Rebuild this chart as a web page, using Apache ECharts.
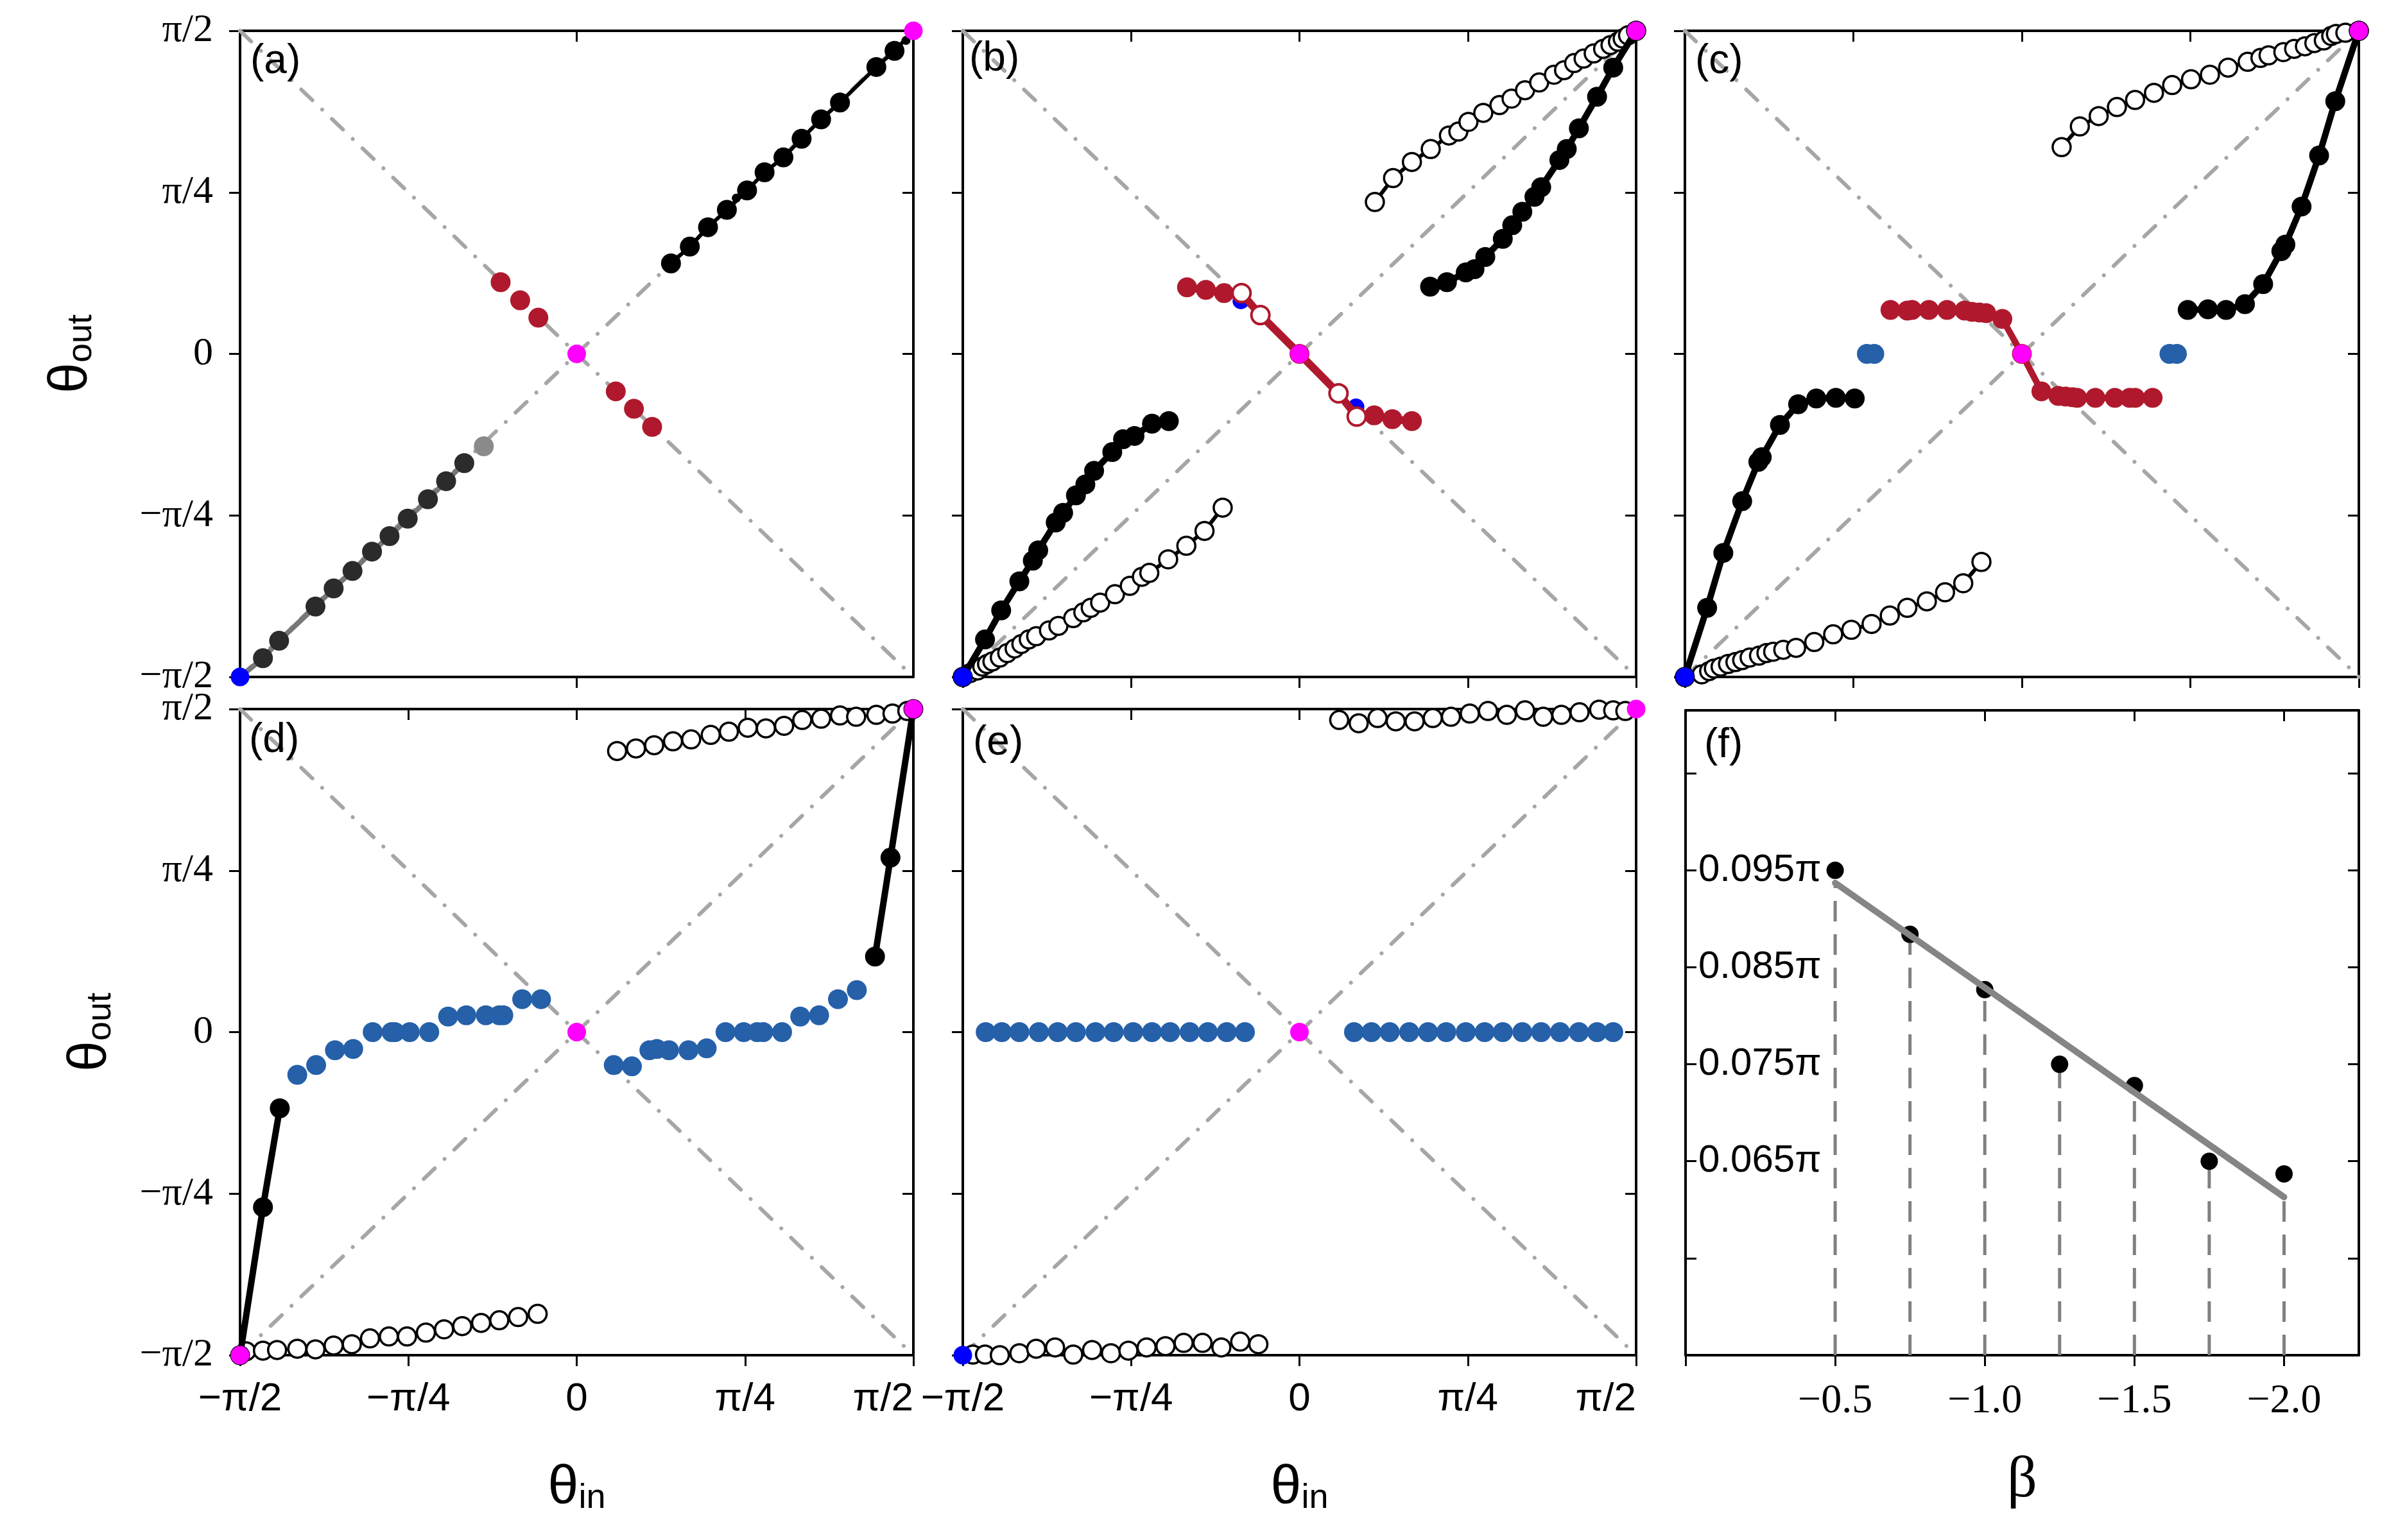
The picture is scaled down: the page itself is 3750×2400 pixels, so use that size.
<!DOCTYPE html>
<html>
<head>
<meta charset="utf-8">
<script src="https://cdn.jsdelivr.net/npm/echarts@6/dist/echarts.min.js"></script>
<style>html,body{margin:0;padding:0;background:#fff}#c{width:3750px;height:2400px}</style>
</head>
<body>
<div id="c"></div>
<script>
// ---------- tick labels / categories ----------
const thetaTickValues = [-0.5, -0.25, 0, 0.25, 0.5];
const thetaTickLabels = ['−π/2', '−π/4', '0', 'π/4', 'π/2'];
const betaTickValues = [-0.5, -1.0, -1.5, -2.0];
const betaTickLabels = ['−0.5', '−1.0', '−1.5', '−2.0'];
const betaAllTicks = [0, -0.5, -1.0, -1.5, -2.0];
const fTickValues = [0.055, 0.065, 0.075, 0.085, 0.095, 0.105];
const fLabelValues = [0.065, 0.075, 0.085, 0.095];
const fTickLabels = ['0.065π', '0.075π', '0.085π', '0.095π'];
const panelLabels = ['(a)', '(b)', '(c)', '(d)', '(e)', '(f)'];

// reference diagonals (units of π)
const diagUpX = [-0.5, 0.5], diagUpY = [-0.5, 0.5];
const diagDownX = [-0.5, 0.5], diagDownY = [0.5, -0.5];
const cornerLowX = [-0.5], cornerLowY = [-0.5];
const magentaX = [0, 0.5], magentaY = [0, 0.5];

// ---------- panel (a) ----------
const aUpperX = [0.140, 0.168, 0.195, 0.223, 0.253, 0.279, 0.307, 0.334, 0.363, 0.391, 0.445, 0.472];
const aUpperY = [0.140, 0.166, 0.196, 0.223, 0.253, 0.281, 0.304, 0.333, 0.363, 0.389, 0.444, 0.469];
const aSmallX = [0.237, 0.489];
const aSmallY = [0.241, 0.485];
const aLowerX = [-0.466, -0.442, -0.388, -0.361, -0.333, -0.304, -0.278, -0.251, -0.221, -0.194, -0.167];
const aLowerY = [-0.471, -0.444, -0.391, -0.363, -0.336, -0.306, -0.282, -0.255, -0.225, -0.197, -0.169];
const aLowerLastX = [-0.138];
const aLowerLastY = [-0.143];
const aRedX = [-0.113, -0.084, -0.057, 0.058, 0.085, 0.112];
const aRedY = [0.111, 0.083, 0.056, -0.058, -0.085, -0.113];

// ---------- panel (b) ----------
const bBlackLowX = [-0.5, -0.467, -0.443, -0.416, -0.396, -0.388, -0.362, -0.351, -0.332, -0.318, -0.305, -0.278, -0.262, -0.245, -0.219, -0.194];
const bBlackLowY = [-0.5, -0.442, -0.397, -0.352, -0.320, -0.304, -0.261, -0.246, -0.219, -0.202, -0.181, -0.152, -0.132, -0.127, -0.108, -0.104];
const bBlackHighX = [0.194, 0.219, 0.247, 0.260, 0.276, 0.302, 0.316, 0.331, 0.349, 0.359, 0.386, 0.397, 0.415, 0.442, 0.466, 0.5];
const bBlackHighY = [0.104, 0.111, 0.126, 0.131, 0.150, 0.178, 0.199, 0.220, 0.243, 0.258, 0.300, 0.317, 0.349, 0.398, 0.443, 0.5];
const bOpenLowX = [-0.5, -0.489, -0.478, -0.471, -0.464, -0.456, -0.445, -0.434, -0.423, -0.413, -0.402, -0.391, -0.372, -0.358, -0.336, -0.321, -0.310, -0.296, -0.274, -0.252, -0.234, -0.223, -0.195, -0.168, -0.141, -0.114];
const bOpenLowY = [-0.5, -0.494, -0.490, -0.484, -0.480, -0.476, -0.470, -0.463, -0.456, -0.449, -0.442, -0.437, -0.428, -0.421, -0.409, -0.400, -0.393, -0.385, -0.372, -0.359, -0.345, -0.339, -0.318, -0.297, -0.274, -0.238];
const bOpenHighX = [0.112, 0.139, 0.167, 0.195, 0.222, 0.236, 0.251, 0.273, 0.297, 0.315, 0.335, 0.356, 0.378, 0.393, 0.408, 0.422, 0.437, 0.451, 0.462, 0.473, 0.480, 0.488, 0.5];
const bOpenHighY = [0.235, 0.272, 0.297, 0.317, 0.338, 0.344, 0.359, 0.373, 0.385, 0.395, 0.408, 0.420, 0.432, 0.439, 0.450, 0.457, 0.465, 0.472, 0.478, 0.483, 0.488, 0.493, 0.5];
const bRedX = [-0.167, -0.139, -0.112, -0.086, -0.058, 0, 0.058, 0.085, 0.111, 0.138, 0.167];
const bRedY = [0.103, 0.099, 0.094, 0.094, 0.060, 0, -0.061, -0.097, -0.095, -0.101, -0.104];
const bRedOpenX = [-0.086, -0.058, 0.058, 0.085];
const bRedOpenY = [0.094, 0.060, -0.061, -0.097];
const bBlueX = [-0.087, 0.084];
const bBlueY = [0.082, -0.082];

// ---------- panel (c) ----------
const cBlackLowX = [-0.5, -0.467, -0.443, -0.415, -0.391, -0.386, -0.359, -0.332, -0.305, -0.276, -0.248];
const cBlackLowY = [-0.5, -0.393, -0.308, -0.228, -0.167, -0.160, -0.110, -0.078, -0.069, -0.068, -0.069];
const cBlackHighX = [0.246, 0.276, 0.303, 0.331, 0.358, 0.385, 0.391, 0.415, 0.441, 0.465, 0.5];
const cBlackHighY = [0.068, 0.069, 0.068, 0.077, 0.108, 0.159, 0.169, 0.228, 0.307, 0.391, 0.5];
const cBlueX = [-0.230, -0.219, 0.219, 0.230];
const cBlueY = [0, 0, 0, 0];
const cRedX = [-0.195, -0.170, -0.163, -0.138, -0.111, -0.085, -0.074, -0.063, -0.053, -0.029, 0, 0.029, 0.054, 0.065, 0.075, 0.082, 0.109, 0.138, 0.160, 0.168, 0.194];
const cRedY = [0.068, 0.067, 0.068, 0.068, 0.068, 0.067, 0.065, 0.064, 0.063, 0.054, 0, -0.058, -0.065, -0.066, -0.067, -0.068, -0.068, -0.068, -0.068, -0.068, -0.068];
const cOpenHighX = [0.059, 0.086, 0.114, 0.141, 0.168, 0.196, 0.223, 0.251, 0.279, 0.306, 0.335, 0.354, 0.366, 0.388, 0.404, 0.420, 0.434, 0.448, 0.459, 0.466, 0.480, 0.5];
const cOpenHighY = [0.320, 0.352, 0.368, 0.382, 0.393, 0.404, 0.416, 0.425, 0.432, 0.443, 0.452, 0.458, 0.462, 0.467, 0.472, 0.476, 0.481, 0.485, 0.492, 0.495, 0.497, 0.5];
const cOpenLowX = [-0.5, -0.475, -0.464, -0.457, -0.447, -0.436, -0.425, -0.415, -0.404, -0.390, -0.379, -0.369, -0.354, -0.335, -0.308, -0.280, -0.253, -0.223, -0.196, -0.170, -0.141, -0.114, -0.087, -0.060];
const cOpenLowY = [-0.5, -0.496, -0.491, -0.487, -0.484, -0.480, -0.477, -0.474, -0.470, -0.467, -0.463, -0.461, -0.458, -0.455, -0.446, -0.434, -0.427, -0.418, -0.405, -0.393, -0.383, -0.369, -0.355, -0.322];

// ---------- panel (d) ----------
const dBlackLowX = [-0.5, -0.466, -0.441];
const dBlackLowY = [-0.5, -0.271, -0.118];
const dBlackHighX = [0.443, 0.466, 0.5];
const dBlackHighY = [0.117, 0.270, 0.5];
const dBlueLowX = [-0.415, -0.387, -0.359, -0.332, -0.303, -0.275, -0.270, -0.248, -0.219, -0.191, -0.164, -0.135, -0.115, -0.109, -0.081, -0.053];
const dBlueLowY = [-0.066, -0.051, -0.028, -0.026, 0, 0, 0, 0, 0, 0.024, 0.026, 0.026, 0.026, 0.026, 0.051, 0.051];
const dBlueHighX = [0.055, 0.082, 0.108, 0.119, 0.137, 0.166, 0.193, 0.221, 0.248, 0.268, 0.277, 0.305, 0.332, 0.360, 0.388, 0.416];
const dBlueHighY = [-0.051, -0.053, -0.028, -0.026, -0.028, -0.028, -0.025, 0, 0, 0, 0, 0, 0.024, 0.026, 0.051, 0.065];
const dOpenHighX = [0.060, 0.088, 0.115, 0.143, 0.170, 0.199, 0.226, 0.254, 0.281, 0.308, 0.335, 0.363, 0.391, 0.415, 0.445, 0.469, 0.491];
const dOpenHighY = [0.435, 0.439, 0.444, 0.450, 0.453, 0.460, 0.465, 0.471, 0.470, 0.474, 0.483, 0.485, 0.490, 0.488, 0.491, 0.493, 0.497];
const dOpenLowX = [-0.491, -0.466, -0.445, -0.415, -0.388, -0.361, -0.334, -0.307, -0.279, -0.252, -0.224, -0.197, -0.170, -0.142, -0.115, -0.087, -0.058];
const dOpenLowY = [-0.494, -0.493, -0.492, -0.490, -0.491, -0.485, -0.483, -0.474, -0.471, -0.471, -0.465, -0.460, -0.455, -0.450, -0.446, -0.441, -0.436];
const dMagentaX = [-0.5, 0, 0.5];
const dMagentaY = [-0.5, 0, 0.5];

// ---------- panel (e) ----------
const eBlueLowX = [-0.466, -0.442, -0.416, -0.387, -0.359, -0.332, -0.303, -0.276, -0.247, -0.219, -0.192, -0.163, -0.136, -0.108, -0.081];
const eBlueHighX = [0.081, 0.107, 0.134, 0.163, 0.191, 0.218, 0.247, 0.275, 0.302, 0.331, 0.359, 0.387, 0.415, 0.442, 0.466];
const eBlueY = [0, 0, 0, 0, 0, 0, 0, 0, 0, 0, 0, 0, 0, 0, 0];
const eOpenHighX = [0.059, 0.088, 0.116, 0.143, 0.171, 0.198, 0.225, 0.253, 0.280, 0.308, 0.335, 0.362, 0.389, 0.416, 0.445, 0.466, 0.484];
const eOpenHighY = [0.483, 0.478, 0.486, 0.481, 0.481, 0.486, 0.488, 0.493, 0.497, 0.491, 0.498, 0.488, 0.491, 0.495, 0.499, 0.498, 0.497];
const eOpenLowX = [-0.485, -0.467, -0.445, -0.416, -0.391, -0.363, -0.336, -0.308, -0.280, -0.254, -0.227, -0.199, -0.172, -0.144, -0.116, -0.088, -0.061];
const eOpenLowY = [-0.499, -0.499, -0.500, -0.497, -0.490, -0.488, -0.499, -0.492, -0.497, -0.493, -0.488, -0.486, -0.481, -0.481, -0.488, -0.479, -0.483];

// ---------- panel (f) ----------
const betaValues = [-0.5, -0.75, -1.0, -1.25, -1.5, -1.75, -2.0];
const fValues = [0.095, 0.0884, 0.0827, 0.075, 0.0728, 0.065, 0.0637];
const fitBeta = [-0.5, -2.0];
const fitValues = [0.0937, 0.0613];

// ---------- layout ----------
const GRIDS = [
  {left: 374, top: 48, width: 1049, height: 1007},
  {left: 1500, top: 48, width: 1049, height: 1007},
  {left: 2625, top: 48, width: 1050, height: 1007},
  {left: 374, top: 1105, width: 1049, height: 1007},
  {left: 1500, top: 1105, width: 1049, height: 1007},
  {left: 2626, top: 1107, width: 1049, height: 1005}
];
const LABEL_POS = [[390, 64], [1510, 60], [2641, 64], [388, 1122], [1516, 1126], [2655, 1130]];

const RED = '#b0192d', BLUE = '#0000ff', MAG = '#ff00ff', STEEL = '#2560a9', DIAG = '#a6a6a6';
const SANS = 'Liberation Sans', SERIF = 'Liberation Serif';
const FILL = 31, OPEN = 28, MARK = 29;

const P = (xs, ys) => xs.map((x, i) => [x, ys[i]]);
const thetaFmt = v => { const i = thetaTickValues.findIndex(t => Math.abs(t - v) < 1e-6); return i >= 0 ? thetaTickLabels[i] : ''; };
const betaFmt = v => { const i = betaTickValues.findIndex(t => Math.abs(t - v) < 1e-6); return i >= 0 ? betaTickLabels[i] : ''; };
const fFmt = v => { const i = fLabelValues.findIndex(t => Math.abs(t - v) < 1e-6); return i >= 0 ? fTickLabels[i] : ''; };

const axLine = {show: true, onZero: false, lineStyle: {color: '#000', width: 4}};
const tickOut = {show: true, inside: false, length: 17, lineStyle: {color: '#000', width: 3}};
const tickIn = {show: true, inside: true, length: 17, lineStyle: {color: '#000', width: 3}};

const xAxes = [], yAxes = [];
const nameRich = {
  t: {fontFamily: SANS, fontSize: 86, lineHeight: 100, verticalAlign: 'bottom', color: '#000'},
  s: {fontFamily: SANS, fontSize: 54, lineHeight: 40, verticalAlign: 'bottom', color: '#000'}
};
for (let g = 0; g < 5; g++) {
  const bottomRow = g >= 3, leftCol = (g === 0 || g === 3);
  const xbTick = Object.assign({}, tickOut, g === 0 ? {customValues: [0]} : {});
  const xtTick = Object.assign({}, tickIn, g === 0 ? {customValues: [0]} : {});
  xAxes.push({
    type: 'value', gridIndex: g, position: 'bottom', min: -0.5, max: 0.5, interval: 0.25,
    axisLine: axLine, axisTick: xbTick, splitLine: {show: false},
    axisLabel: {show: bottomRow, formatter: thetaFmt, fontFamily: SANS, fontSize: 62, color: '#000', margin: 38, alignMaxLabel: 'right'},
    name: bottomRow ? '{t|θ}{s|in}' : '', nameLocation: 'middle', nameGap: 150,
    nameTextStyle: {rich: nameRich}
  });
  xAxes.push({
    type: 'value', gridIndex: g, position: 'top', min: -0.5, max: 0.5, interval: 0.25,
    axisLine: axLine, axisTick: xtTick, axisLabel: {show: false}, splitLine: {show: false}
  });
  yAxes.push({
    type: 'value', gridIndex: g, position: 'left', min: -0.5, max: 0.5, interval: 0.25,
    axisLine: axLine, axisTick: tickOut, splitLine: {show: false},
    axisLabel: {show: leftCol, formatter: thetaFmt, fontFamily: SERIF, fontSize: 62, color: '#000', margin: 42},
    name: leftCol ? '{t|θ}{s|out}' : '', nameLocation: 'middle', nameRotate: 90, nameGap: g === 0 ? 220 : 190,
    nameTextStyle: {rich: nameRich}
  });
  yAxes.push({
    type: 'value', gridIndex: g, position: 'right', min: -0.5, max: 0.5, interval: 0.25,
    axisLine: axLine, axisTick: tickIn, axisLabel: {show: false}, splitLine: {show: false}
  });
}
// panel (f)
xAxes.push({
  type: 'value', gridIndex: 5, position: 'bottom', min: -2.25, max: 0, inverse: true,
  axisLine: axLine, axisTick: Object.assign({}, tickOut, {customValues: betaAllTicks}), splitLine: {show: false},
  axisLabel: {show: true, customValues: betaTickValues, formatter: betaFmt, fontFamily: SERIF, fontSize: 64, color: '#000', margin: 40},
  name: 'β', nameLocation: 'middle', nameGap: 150,
  nameTextStyle: {fontFamily: SERIF, fontSize: 92, color: '#000'}
});
xAxes.push({
  type: 'value', gridIndex: 5, position: 'top', min: -2.25, max: 0, inverse: true,
  axisLine: axLine, axisTick: Object.assign({}, tickIn, {customValues: betaTickValues}), axisLabel: {show: false}, splitLine: {show: false}
});
yAxes.push({
  type: 'value', gridIndex: 5, position: 'left', min: 0.045, max: 0.1115,
  axisLine: axLine, axisTick: Object.assign({}, tickIn, {customValues: fTickValues}), splitLine: {show: false},
  axisLabel: {show: true, inside: true, customValues: fLabelValues, formatter: fFmt, fontFamily: SANS, fontSize: 60, color: '#000', margin: 20}
});
yAxes.push({
  type: 'value', gridIndex: 5, position: 'right', min: 0.045, max: 0.1115,
  axisLine: axLine, axisTick: Object.assign({}, tickIn, {customValues: fTickValues}), axisLabel: {show: false}, splitLine: {show: false}
});

// ---------- series helpers ----------
function pts(g, data, o) {
  return {
    type: 'scatter', xAxisIndex: g * 2, yAxisIndex: g * 2, data: data, clip: false, silent: true,
    symbol: 'circle', symbolSize: o.size,
    itemStyle: {color: o.fill, borderColor: o.border || o.fill, borderWidth: o.bw || 0, opacity: 1},
    z: o.z || 5
  };
}
function line(g, data, o) {
  return {
    type: 'line', xAxisIndex: g * 2, yAxisIndex: g * 2, data: data, clip: false, silent: true,
    symbol: o.size ? 'circle' : 'none', showSymbol: !!o.size, symbolSize: o.size || 0,
    itemStyle: {color: o.fill || '#000', borderColor: o.border || o.fill || '#000', borderWidth: o.bw || 0, opacity: 1},
    lineStyle: {color: o.lc || '#000', width: o.lw, type: o.dash || 'solid', cap: o.cap || 'round', join: 'round', opacity: 1},
    z: o.z || 3
  };
}
function diags(g) {
  const st = {lc: DIAG, lw: 6, dash: [24, 21, 0.1, 21], cap: 'round', z: 1};
  return [line(g, P(diagUpX, diagUpY), st), line(g, P(diagDownX, diagDownY), st)];
}
const openStyle = (z) => ({size: OPEN, fill: '#fff', border: '#000', bw: 3.5, lc: '#000', lw: 6, z: z});

const series = [];
// (a)
series.push(...diags(0));
series.push(line(0, P(cornerLowX.concat(aLowerX), cornerLowY.concat(aLowerY)), {lc: '#777777', lw: 8, z: 2}));
series.push(pts(0, P(aLowerX, aLowerY), {size: FILL, fill: '#2b2b2b', z: 4}));
series.push(pts(0, P(aLowerLastX, aLowerLastY), {size: FILL, fill: '#8a8a8a', z: 4}));
series.push(line(0, P(aUpperX.concat([0.5]), aUpperY.concat([0.5])), {lc: '#000', lw: 6, z: 2}));
series.push(pts(0, P(aUpperX, aUpperY), {size: FILL, fill: '#000', z: 4}));
series.push(pts(0, P(aSmallX, aSmallY), {size: 14, fill: '#000', z: 4}));
series.push(pts(0, P(aRedX, aRedY), {size: FILL, fill: RED, z: 4}));
series.push(pts(0, P(cornerLowX, cornerLowY), {size: MARK, fill: BLUE, z: 8}));
series.push(pts(0, P(magentaX, magentaY), {size: MARK, fill: MAG, z: 8}));
// (b)
series.push(...diags(1));
series.push(line(1, P(bOpenLowX, bOpenLowY), openStyle(3)));
series.push(line(1, P(bOpenHighX, bOpenHighY), openStyle(3)));
series.push(line(1, P(bBlackLowX, bBlackLowY), {size: FILL, fill: '#000', lc: '#000', lw: 10, z: 4}));
series.push(line(1, P(bBlackHighX, bBlackHighY), {size: FILL, fill: '#000', lc: '#000', lw: 10, z: 4}));
series.push(pts(1, P(bBlueX, bBlueY), {size: 26, fill: BLUE, z: 4}));
series.push(line(1, P(bRedX, bRedY), {size: FILL, fill: RED, lc: RED, lw: 12, z: 5}));
series.push(pts(1, P(bRedOpenX, bRedOpenY), {size: OPEN, fill: '#fff', border: RED, bw: 4, z: 6}));
series.push(pts(1, P(cornerLowX, cornerLowY), {size: MARK, fill: BLUE, z: 8}));
series.push(pts(1, P(magentaX, magentaY), {size: MARK, fill: MAG, z: 8}));
// (c)
series.push(...diags(2));
series.push(line(2, P(cOpenLowX, cOpenLowY), openStyle(3)));
series.push(line(2, P(cOpenHighX, cOpenHighY), openStyle(3)));
series.push(line(2, P(cBlackLowX, cBlackLowY), {size: FILL, fill: '#000', lc: '#000', lw: 10, z: 4}));
series.push(line(2, P(cBlackHighX, cBlackHighY), {size: FILL, fill: '#000', lc: '#000', lw: 10, z: 4}));
series.push(pts(2, P(cBlueX, cBlueY), {size: FILL, fill: STEEL, z: 4}));
series.push(line(2, P(cRedX, cRedY), {size: FILL, fill: RED, lc: RED, lw: 10, z: 5}));
series.push(pts(2, P(cornerLowX, cornerLowY), {size: MARK, fill: BLUE, z: 8}));
series.push(pts(2, P(magentaX, magentaY), {size: MARK, fill: MAG, z: 8}));
// (d)
series.push(...diags(3));
series.push(line(3, P(dOpenLowX, dOpenLowY), Object.assign(openStyle(3), {lw: 4})));
series.push(line(3, P(dOpenHighX, dOpenHighY), Object.assign(openStyle(3), {lw: 4})));
series.push(line(3, P(dBlackLowX, dBlackLowY), {size: FILL, fill: '#000', lc: '#000', lw: 10, z: 4}));
series.push(line(3, P(dBlackHighX, dBlackHighY), {size: FILL, fill: '#000', lc: '#000', lw: 10, z: 4}));
series.push(pts(3, P(dBlueLowX, dBlueLowY), {size: FILL, fill: STEEL, z: 4}));
series.push(pts(3, P(dBlueHighX, dBlueHighY), {size: FILL, fill: STEEL, z: 4}));
series.push(pts(3, P(dMagentaX, dMagentaY), {size: MARK, fill: MAG, z: 8}));
// (e)
series.push(...diags(4));
series.push(line(4, P(eOpenLowX, eOpenLowY), Object.assign(openStyle(3), {lw: 5})));
series.push(line(4, P(eOpenHighX, eOpenHighY), Object.assign(openStyle(3), {lw: 5})));
series.push(pts(4, P(eBlueLowX, eBlueY), {size: FILL, fill: STEEL, z: 4}));
series.push(pts(4, P(eBlueHighX, eBlueY), {size: FILL, fill: STEEL, z: 4}));
series.push(pts(4, P(cornerLowX, cornerLowY), {size: MARK, fill: BLUE, z: 8}));
series.push(pts(4, P(magentaX, magentaY), {size: MARK, fill: MAG, z: 8}));
// (f)
const fYMin = 0.045;
const fitAt = b => fitValues[0] + (b - fitBeta[0]) * (fitValues[1] - fitValues[0]) / (fitBeta[1] - fitBeta[0]);
betaValues.forEach((b, i) => {
  const top = Math.min(fValues[i], fitAt(b));
  series.push(line(5, [[b, fYMin], [b, top]], {lc: '#808080', lw: 5, dash: [32, 20], cap: 'butt', z: 2}));
});
series.push(pts(5, P(betaValues, fValues), {size: 27, fill: '#000', z: 4}));
series.push(line(5, P(fitBeta, fitValues), {lc: '#858585', lw: 10, cap: 'round', z: 5}));

const option = {
  animation: false,
  backgroundColor: '#ffffff',
  grid: GRIDS.map(g => Object.assign({containLabel: false, outerBoundsMode: 'none'}, g)),
  xAxis: xAxes,
  yAxis: yAxes,
  series: series,
  graphic: panelLabels.map((t, i) => ({
    type: 'text', left: LABEL_POS[i][0], top: LABEL_POS[i][1], z: 100,
    style: {text: t, fontFamily: SANS, fontSize: 64, fill: '#000'}
  }))
};
const chart = echarts.init(document.getElementById('c'), null, {renderer: 'canvas', width: 3750, height: 2400});
chart.setOption(option);
</script>
</body>
</html>
